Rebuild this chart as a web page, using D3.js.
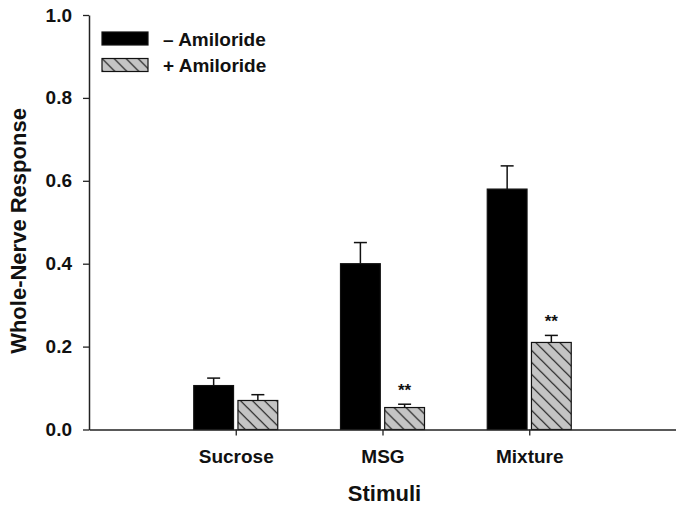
<!DOCTYPE html>
<html>
<head>
<meta charset="utf-8">
<script src="https://cdn.jsdelivr.net/npm/d3@7"></script>
<style>
  html, body { margin: 0; padding: 0; background: #fff; }
  svg { display: block; font-family: "Liberation Sans", Arial, Helvetica, sans-serif; font-weight: bold; }
</style>
</head>
<body>
<svg id="chart" width="676" height="508"></svg>
<script>
// Whole-nerve responses to taste stimuli with and without amiloride
const categories = ["Sucrose", "MSG", "Mixture"];
const seriesNames = ["– Amiloride", "+ Amiloride"];
const minusAmiloride = [0.106, 0.40, 0.58];
const minusAmilorideErr = [0.018, 0.051, 0.056];
const plusAmiloride = [0.070, 0.053, 0.21];
const plusAmilorideErr = [0.014, 0.008, 0.017];
const significance = ["", "**", "**"];
const yTicks = [0, 0.2, 0.4, 0.6, 0.8, 1.0];

const svg = d3.select("#chart");

const x = d3.scalePoint().domain(categories).range([89, 676]).padding(1);
const xSub = d3.scaleBand().domain(seriesNames).range([-42, 42]).paddingInner(0.1);
const y = d3.scaleLinear().domain([0, 1]).range([429.5, 15]);

// hatch pattern for the amiloride-treated bars
const defs = svg.append("defs");
const pat = defs.append("pattern")
  .attr("id", "hatch")
  .attr("patternUnits", "userSpaceOnUse")
  .attr("width", 12).attr("height", 12);
pat.append("rect").attr("width", 12).attr("height", 12).attr("fill", "#c4c4c4");
pat.append("path")
  .attr("d", "M-3,-3 L15,15 M-15,-3 L3,15 M9,-3 L27,15")
  .attr("stroke", "#1a1a1a").attr("stroke-width", 1.2);

const rows = categories.map((c, i) => ({
  cat: c,
  bars: [
    { s: seriesNames[0], v: minusAmiloride[i], e: minusAmilorideErr[i], fill: "#000" },
    { s: seriesNames[1], v: plusAmiloride[i], e: plusAmilorideErr[i], fill: "url(#hatch)", sig: significance[i] }
  ]
}));

const groups = svg.append("g").selectAll("g")
  .data(rows).join("g")
  .attr("transform", d => `translate(${x(d.cat)},0)`);

// error bars (upper only), drawn under the bars
groups.selectAll("g.err").data(d => d.bars).join("g").attr("class", "err")
  .each(function(d) {
    const g = d3.select(this);
    const cx = xSub(d.s) + xSub.bandwidth() / 2;
    g.append("line").attr("x1", cx).attr("x2", cx)
      .attr("y1", y(d.v)).attr("y2", y(d.v + d.e))
      .attr("stroke", "#111").attr("stroke-width", 1.5);
    g.append("line").attr("x1", cx - 6.5).attr("x2", cx + 6.5)
      .attr("y1", y(d.v + d.e)).attr("y2", y(d.v + d.e))
      .attr("stroke", "#111").attr("stroke-width", 1.5);
  });

groups.selectAll("rect").data(d => d.bars).join("rect")
  .attr("x", d => xSub(d.s))
  .attr("width", xSub.bandwidth())
  .attr("y", d => y(d.v))
  .attr("height", d => y(0) - y(d.v))
  .attr("fill", d => d.fill)
  .attr("stroke", "#111")
  .attr("stroke-width", 1.2);

// significance markers
groups.selectAll("text.sig").data(d => d.bars.filter(b => b.sig)).join("text")
  .attr("class", "sig")
  .attr("x", d => xSub(d.s) + xSub.bandwidth() / 2)
  .attr("y", d => y(d.v + d.e) - 8)
  .attr("text-anchor", "middle")
  .attr("font-size", 17)
  .attr("fill", "#111")
  .text(d => d.sig);

// y axis
const yAxis = svg.append("g")
  .attr("transform", "translate(89,0)")
  .call(d3.axisLeft(y).tickValues(yTicks).tickFormat(d3.format(".1f")).tickSize(6).tickSizeOuter(0).tickPadding(11));
yAxis.select(".domain").attr("stroke", "#222").attr("stroke-width", 1.5);
yAxis.selectAll(".tick line").attr("stroke", "#222").attr("stroke-width", 1.3);
yAxis.selectAll(".tick text").attr("font-size", 19).attr("font-weight", "bold")
  .attr("fill", "#111").attr("font-family", "Liberation Sans, Arial, sans-serif");

// x axis
const xAxis = svg.append("g")
  .attr("transform", `translate(0,${y(0)})`)
  .call(d3.axisBottom(x).tickSize(6).tickSizeOuter(0).tickPadding(14));
xAxis.select(".domain").attr("stroke", "#222").attr("stroke-width", 1.5);
xAxis.selectAll(".tick line").attr("stroke", "#222").attr("stroke-width", 1.3);
xAxis.selectAll(".tick text").attr("font-size", 19).attr("font-weight", "bold")
  .attr("fill", "#111").attr("font-family", "Liberation Sans, Arial, sans-serif");

// axis titles
svg.append("text")
  .attr("x", (89 + 676) / 2 + 2).attr("y", 501)
  .attr("text-anchor", "middle").attr("font-size", 22).attr("fill", "#111")
  .text("Stimuli");
svg.append("text")
  .attr("transform", "translate(26,231) rotate(-90)")
  .attr("text-anchor", "middle").attr("font-size", 22).attr("fill", "#111")
  .text("Whole-Nerve Response");

// legend
const legend = svg.append("g").attr("transform", "translate(102,32)");
const legendFills = ["#000", "url(#hatch)"];
seriesNames.forEach((name, i) => {
  const g = legend.append("g").attr("transform", `translate(0,${i * 26.5})`);
  g.append("rect").attr("width", 46).attr("height", 13)
    .attr("fill", legendFills[i]).attr("stroke", "#111").attr("stroke-width", 1.2);
  g.append("text").attr("x", 61).attr("y", 13.8)
    .attr("font-size", 19).attr("fill", "#111").text(name);
});
</script>
</body>
</html>
